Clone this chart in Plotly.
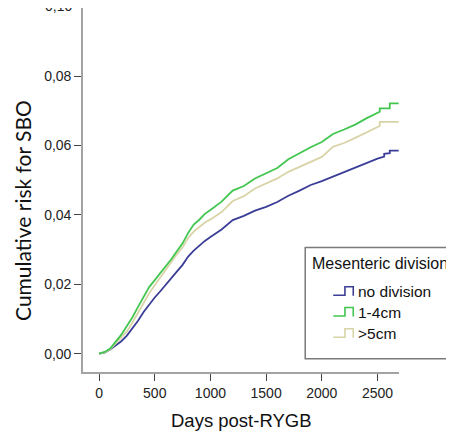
import plotly.graph_objects as go

# ---- data ----
days_base = [0, 50, 100, 150, 200, 250, 300, 350, 400, 450, 500, 550, 600, 650, 700, 750,
             800, 850, 900, 950, 1000, 1100, 1200, 1300, 1400, 1500, 1600, 1700, 1800, 1900,
             2000, 2100, 2200, 2300, 2400]

no_division_base = [0, 0.0003, 0.0012, 0.0023, 0.0036, 0.0052, 0.0072, 0.0095, 0.0120, 0.0142,
                    0.0162, 0.0180, 0.0200, 0.0218, 0.0237, 0.0256, 0.0280, 0.0297, 0.0311, 0.0325,
                    0.0336, 0.0358, 0.0385, 0.0397, 0.0412, 0.0423, 0.0437, 0.0455, 0.0470, 0.0486,
                    0.0497, 0.0510, 0.0523, 0.0537, 0.0550]
no_division_tail_days = [2500, 2560, 2560, 2610, 2610, 2690]
no_division_tail = [0.0562, 0.0568, 0.0576, 0.0578, 0.0585, 0.0585]

div_1_4cm_base = [0, 0.0005, 0.0015, 0.0034, 0.0055, 0.0080, 0.0105, 0.0135, 0.0165, 0.0192,
                  0.0212, 0.0232, 0.0252, 0.0273, 0.0296, 0.0318, 0.0348, 0.0372, 0.0386, 0.0403,
                  0.0414, 0.0438, 0.0470, 0.0483, 0.0505, 0.0520, 0.0535, 0.0560, 0.0578, 0.0595,
                  0.0610, 0.0633, 0.0646, 0.0660, 0.0678]
div_1_4cm_tail_days = [2500, 2520, 2520, 2610, 2610, 2690]
div_1_4cm_tail = [0.0695, 0.0697, 0.0707, 0.0707, 0.0721, 0.0721]

div_gt5cm_base = [0, 0.0004, 0.0013, 0.0030, 0.0047, 0.0064, 0.0090, 0.0118, 0.0146, 0.0174,
                  0.0197, 0.0220, 0.0243, 0.0265, 0.0287, 0.0307, 0.0334, 0.0352, 0.0364, 0.0378,
                  0.0387, 0.0408, 0.0440, 0.0454, 0.0476, 0.0490, 0.0505, 0.0524, 0.0538, 0.0553,
                  0.0567, 0.0596, 0.0607, 0.0622, 0.0638]
div_gt5cm_tail_days = [2500, 2520, 2520, 2690]
div_gt5cm_tail = [0.0652, 0.0656, 0.0668, 0.0668]

series_names = ["no division", "1-4cm", ">5cm"]
series_days = [days_base + no_division_tail_days,
               days_base + div_1_4cm_tail_days,
               days_base + div_gt5cm_tail_days]
series_values = [no_division_base + no_division_tail,
                 div_1_4cm_base + div_1_4cm_tail,
                 div_gt5cm_base + div_gt5cm_tail]
colors = ["#3b3e96", "#42c650", "#d9d4a8"]

x_ticks = [0, 500, 1000, 1500, 2000, 2500]
y_ticks = [0.00, 0.02, 0.04, 0.06, 0.08]
y_tick_labels = ["0,00", "0,02", "0,04", "0,06", "0,08"]
y_top_label = "0,10"

# ---- layout geometry ----
# The page body adds an 8px offset; positions below are given in reference pixels.
OFF = 8
W, H = 454, 434
PLOT_L, PLOT_R, PLOT_T, PLOT_B = 83.3, 399, 8, 372.3
L = PLOT_L - OFF
R = W - (PLOT_R - OFF)
T = PLOT_T - OFF
B = H - (PLOT_B - OFF)


def px_x(px):
    return (px - PLOT_L) / (PLOT_R - PLOT_L)


def px_y(py):
    return (PLOT_B - py) / (PLOT_B - PLOT_T)


fig = go.Figure()
for idx in [0, 2, 1]:
    fig.add_trace(go.Scatter(
        x=series_days[idx], y=series_values[idx], mode="lines", name=series_names[idx],
        line=dict(color=colors[idx], width=1.8, shape="linear"),
        showlegend=False, hoverinfo="skip"))

font_family = "Liberation Sans, Arial, sans-serif"

fig.update_layout(
    width=W, height=H,
    margin=dict(l=L, r=R, t=T, b=B, autoexpand=False),
    paper_bgcolor="white", plot_bgcolor="white",
    separators=", ",
    font=dict(family=font_family, size=14, color="#222222"),
    xaxis=dict(range=[-144, 2693], tickvals=x_ticks, ticktext=[str(v) for v in x_ticks],
               showgrid=False, zeroline=False, showline=True, linecolor="#a3a3a3",
               linewidth=1.6, ticks="outside", ticklen=7, tickwidth=1.4,
               tickcolor="#444444", tickfont=dict(size=14, family=font_family, color="#222")),
    yaxis=dict(range=[-0.00527, 0.0996], tickvals=y_ticks, ticktext=y_tick_labels,
               showgrid=False, zeroline=False, showline=True, linecolor="#a3a3a3",
               linewidth=1.6, ticks="outside", ticklen=7, tickwidth=1.4,
               tickcolor="#444444", tickfont=dict(size=14, family=font_family, color="#222")),
)

annotations = [
    dict(text="Cumulative risk for SBO", x=px_x(23), y=px_y(210.5), xref="paper", yref="paper",
         textangle=-90, showarrow=False, xanchor="center", yanchor="middle",
         font=dict(family="Lato, sans-serif", size=21, color="#111")),
    dict(text="Days post-RYGB", x=px_x(242), y=px_y(421), xref="paper", yref="paper",
         showarrow=False, xanchor="center", yanchor="middle",
         font=dict(family=font_family, size=18.5, color="#111")),
    dict(text="Mesenteric division", x=px_x(310), y=px_y(264), xref="paper", yref="paper",
         showarrow=False, xanchor="left", yanchor="middle",
         font=dict(family=font_family, size=16, color="#111")),
    # the partly cropped top tick label of the original
    dict(text=y_top_label, x=px_x(74), y=px_y(6), xref="paper", yref="paper",
         showarrow=False, xanchor="right", yanchor="middle",
         font=dict(family=font_family, size=14, color="#222")),
]

shapes = [
    dict(type="rect", xref="paper", yref="paper", x0=px_x(305.3), x1=px_x(470),
         y0=px_y(359), y1=px_y(247.7), line=dict(color="#7a7a7a", width=1.5),
         fillcolor="white", layer="above"),
]

row_y = [292, 312.7, 334]
for name, col, yc in zip(series_names, colors, row_y):
    annotations.append(dict(text=name, x=px_x(356.5), y=px_y(yc), xref="paper", yref="paper",
                            showarrow=False, xanchor="left", yanchor="middle",
                            font=dict(family=font_family, size=15.5, color="#111")))
    lo, hi = yc + 3.5, yc - 5
    pts = [(333.3, lo), (345, lo), (345, hi), (353.3, hi), (353.3, yc + 4)]
    path = "M " + " L ".join(f"{px_x(a):.5f},{px_y(b):.5f}" for a, b in pts)
    shapes.append(dict(type="path", xref="paper", yref="paper", path=path,
                       line=dict(color=col, width=1.6), layer="above"))

fig.update_layout(annotations=annotations, shapes=shapes)

fig.write_html("out.html")
